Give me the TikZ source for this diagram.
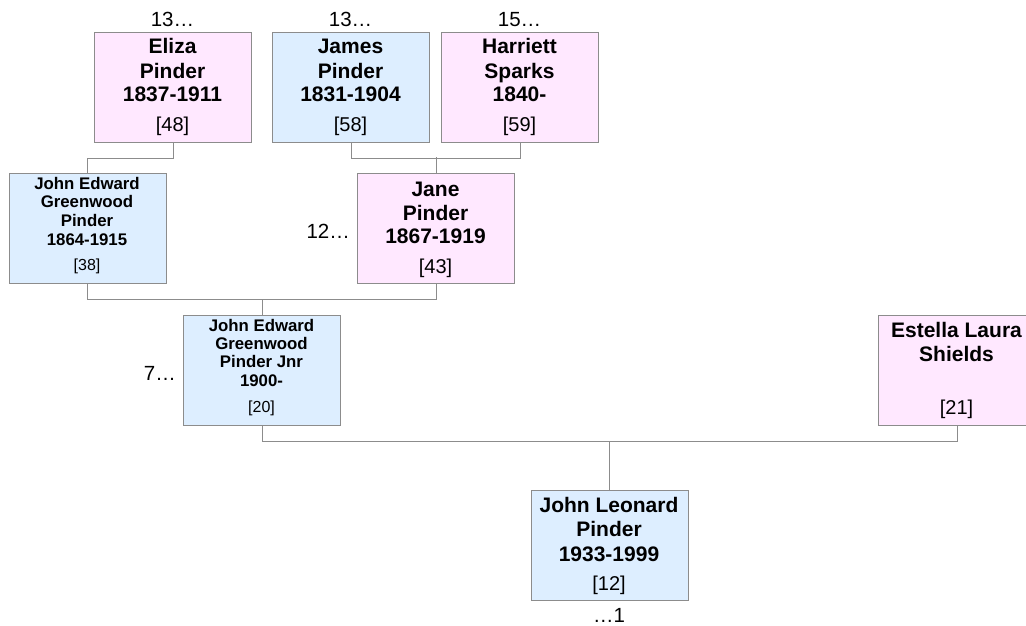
\documentclass[tikz,border=0pt]{standalone}
\usepackage{fontspec}
\setmainfont{Liberation Sans}
\definecolor{bluefill}{RGB}{221,238,255}
\definecolor{pinkfill}{RGB}{255,232,255}
\definecolor{edgegray}{RGB}{140,140,140}
\begin{document}
\begin{tikzpicture}[x=1pt,y=-1pt,
  pbox/.style={draw=edgegray, line width=1.4pt, rectangle, minimum width=157pt, minimum height=110pt, anchor=north west, inner sep=0pt},
  male/.style={pbox, fill=bluefill},
  female/.style={pbox, fill=pinkfill},
  conn/.style={draw=edgegray, line width=1.3pt},
  big/.style={font=\fontsize{21}{24}\selectfont\bfseries, inner sep=0pt, anchor=base},
  small/.style={font=\fontsize{16.8}{19}\selectfont\bfseries, inner sep=0pt, anchor=base},
  bigref/.style={font=\fontsize{20}{24}\selectfont, inner sep=0pt, anchor=base},
  smallref/.style={font=\fontsize{16}{19}\selectfont, inner sep=0pt, anchor=base},
  side/.style={font=\fontsize{20.5}{24}\selectfont, inner sep=0pt}
]
\useasboundingbox (0,0) rectangle (1026,626);
% boxes
\node[female] (eliza) at (94,32) {};
\node[male] (james) at (272,32) {};
\node[female] (harriett) at (441,32) {};
\node[male] (jeg) at (8.5,173) {};
\node[female] (jane) at (357,173) {};
\node[male] (jnr) at (183,315) {};
\node[female] (estella) at (878,315) {};
\node[male] (jl) at (530.5,490) {};
% connectors
\draw[conn] (eliza.south) -- ++(0,15) -| (jeg.north);
\draw[conn] (james.south) -- ++(0,15) -| (harriett.south);
\draw[conn] (jane.north) -- ++(0,-16);
\draw[conn] (jeg.south) -- ++(0,15) -| (jane.south);
\draw[conn] (jnr.north) -- ++(0,-16);
\draw[conn] (jnr.south) -- ++(0,15) -| (estella.south);
\draw[conn] (jl.north) -- ++(0,-49);
% Eliza
\node[big] (eliza1) at (172.5,54) {Eliza};
\node[big] (eliza2) at (172.5,78.5) {Pinder};
\node[big] (eliza3) at (172.5,102) {1837-1911};
\node[bigref] (eliza4) at (172.5,131) {[48]};
% James
\node[big] (james1) at (350.5,54) {James};
\node[big] (james2) at (350.5,78.5) {Pinder};
\node[big] (james3) at (350.5,102) {1831-1904};
\node[bigref] (james4) at (350.5,131) {[58]};
% Harriett
\node[big] (harriett1) at (519.5,54) {Harriett};
\node[big] (harriett2) at (519.5,78.5) {Sparks};
\node[big] (harriett3) at (519.5,102) {1840-};
\node[bigref] (harriett4) at (519.5,131) {[59]};
% JEG
\node[small] (jeg1) at (87,189) {John Edward};
\node[small] (jeg2) at (87,207.5) {Greenwood};
\node[small] (jeg3) at (87,226.5) {Pinder};
\node[small] (jeg4) at (87,245) {1864-1915};
\node[smallref] (jeg5) at (87,270) {[38]};
% Jane
\node[big] (jane1) at (435.5,196) {Jane};
\node[big] (jane2) at (435.5,220) {Pinder};
\node[big] (jane3) at (435.5,243.5) {1867-1919};
\node[bigref] (jane4) at (435.5,273) {[43]};
% Jnr
\node[small] (jnr1) at (261.5,331) {John Edward};
\node[small] (jnr2) at (261.5,349) {Greenwood};
\node[small] (jnr3) at (261.5,367.5) {Pinder Jnr};
\node[small] (jnr4) at (261.5,386) {1900-};
\node[smallref] (jnr5) at (261.5,412) {[20]};
% Estella
\node[big] (estella1) at (956.5,337) {Estella Laura};
\node[big] (estella2) at (956.5,361) {Shields};
\node[bigref] (estella3) at (956.5,414) {[21]};
% John Leonard
\node[big] (jl1) at (609,512) {John Leonard};
\node[big] (jl2) at (609,536) {Pinder};
\node[big] (jl3) at (609,561) {1933-1999};
\node[bigref] (jl4) at (609,590) {[12]};
% side labels
\node[side, anchor=base] (elizaup) at (172.5,27) {13…};
\node[side, anchor=base] (jamesup) at (350.5,27) {13…};
\node[side, anchor=base] (harriettup) at (519.5,27) {15…};
\node[side, anchor=base east] (janeleft) at (350,238) {12…};
\node[side, anchor=base east] (jnrleft) at (176,380) {7…};
\node[side, anchor=base] (jldown) at (609,622) {…1};
\end{tikzpicture}
\end{document}
